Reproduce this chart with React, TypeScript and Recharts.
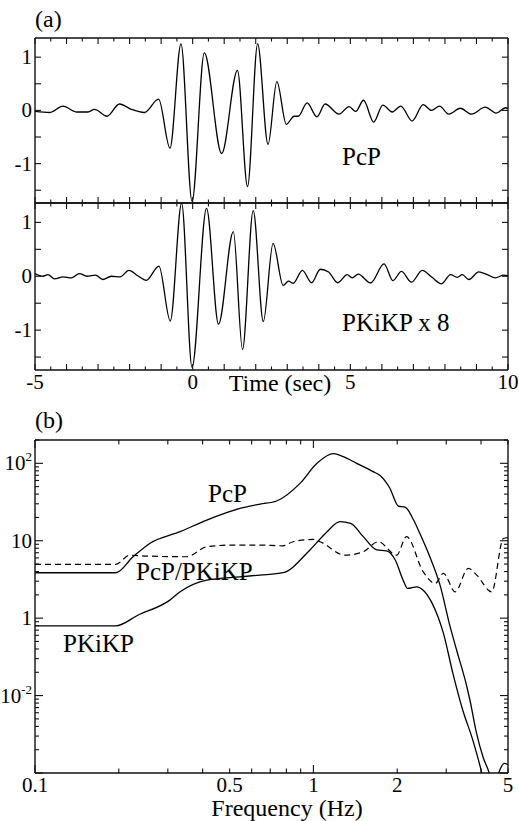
import { LineChart, Line, XAxis, YAxis } from 'recharts';

const FONT = "'Liberation Serif', 'Times New Roman', Times, 'DejaVu Serif', serif";

// (a) seismograms: [time (sec), normalised amplitude]
const pcpTrace: [number, number][] = [
  [-5, -0.02], [-4.53, -0.04], [-4.11, 0.08], [-3.69, -0.03], [-3.32, -0.03], [-3.11, 0.02],
  [-2.72, -0.11], [-2.32, 0.12], [-1.95, 0.02], [-1.53, -0.04], [-1.08, 0.21], [-0.72, -0.71],
  [-0.37, 1.25], [-0.02, -1.71], [0.37, 1.08], [0.92, -0.81], [1.42, 0.75], [1.74, -1.43],
  [2.06, 1.25], [2.39, -0.64], [2.67, 0.54], [2.97, -0.26], [3.22, -0.11], [3.35, -0.11],
  [3.63, 0.14], [3.94, -0.12], [4.2, 0.12], [4.64, -0.07], [4.96, 0.07], [5.17, -0.02],
  [5.42, 0.19], [5.74, -0.22], [6.03, 0.1], [6.33, -0.03], [6.6, 0.08], [6.96, -0.2],
  [7.31, 0.11], [7.57, 0.0], [7.83, 0.08], [8.12, -0.07], [8.49, 0.04], [8.84, -0.07],
  [9.28, 0.06], [9.62, -0.05], [9.92, 0.05], [10, 0.04],
];

const pkikpTrace: [number, number][] = [
  [-5, 0.05], [-4.75, 0.0], [-4.59, 0.03], [-4.38, -0.05], [-4.11, -0.01], [-3.85, -0.03],
  [-3.59, 0.05], [-3.35, 0.0], [-3.08, 0.02], [-2.85, -0.06], [-2.58, 0.0], [-2.3, -0.01],
  [-2.02, 0.11], [-1.74, 0.01], [-1.47, -0.075], [-1.07, 0.19], [-0.71, -0.83], [-0.35, 1.36],
  [-0.02, -1.69], [0.44, 1.26], [0.82, -0.89], [1.29, 0.83], [1.58, -1.36], [1.92, 1.22],
  [2.24, -0.84], [2.55, 0.61], [2.87, -0.17], [3.04, -0.09], [3.19, -0.13], [3.48, 0.11],
  [3.77, -0.12], [4.05, 0.13], [4.31, 0.08], [4.6, -0.12], [4.9, 0.03], [5.06, -0.03],
  [5.25, 0.04], [5.64, -0.125], [6.07, 0.23], [6.35, -0.08], [6.62, 0.09], [6.94, -0.11],
  [7.28, 0.11], [7.59, -0.02], [7.89, -0.14], [8.18, 0.03], [8.39, -0.02], [8.55, 0.03],
  [8.76, -0.06], [9.07, 0.08], [9.34, 0.03], [9.6, -0.03], [9.86, 0.02], [10, 0.01],
];

// (b) spectra: [frequency (Hz), amplitude]
const pcpSpectrum: [number, number][] = [
  [0.1, 3.86], [0.195, 3.86], [0.225, 6.2], [0.259, 9.3], [0.332, 13.1], [0.414, 18.5],
  [0.545, 26.2], [0.643, 29.8], [0.738, 32.6], [0.895, 55], [1.03, 100], [1.18, 133],
  [1.28, 122], [1.43, 100], [1.64, 78], [1.74, 69], [1.88, 48], [2.02, 28], [2.14, 27],
  [2.29, 18.5], [2.41, 12.5], [2.62, 6.2], [2.85, 2.67], [3.1, 0.77], [3.27, 0.385],
  [3.56, 0.129], [3.65, 0.087], [3.86, 0.032], [4.07, 0.016], [4.29, 0.0098], [4.45, 0.006],
  [4.62, 0.0098], [4.85, 0.0133], [5, 0.0128],
];

const pkikpSpectrum: [number, number][] = [
  [0.1, 0.795], [0.195, 0.795], [0.234, 1.09], [0.305, 1.71], [0.332, 2.19], [0.414, 3.1],
  [0.545, 3.42], [0.643, 3.6], [0.778, 3.86], [0.972, 7.6], [1.12, 13.1], [1.246, 17.6],
  [1.36, 16.8], [1.51, 11.3], [1.69, 7.6], [1.83, 7.4], [1.97, 5.6], [2.1, 3.1], [2.18, 2.42],
  [2.35, 2.54], [2.48, 2.3], [2.66, 1.6], [2.93, 0.64], [3.17, 0.194], [3.44, 0.0646],
  [3.74, 0.0264], [4.03, 0.0098], [4.2, 0.005],
];

const ratioSpectrum: [number, number][] = [
  [0.1, 4.95], [0.195, 4.95], [0.219, 6.5], [0.252, 6.34], [0.351, 6.21], [0.414, 8.36],
  [0.514, 8.8], [0.643, 8.8], [0.778, 8.6], [0.845, 9.7], [1.0, 10.4], [1.057, 9.7],
  [1.3, 6.5], [1.51, 7.2], [1.71, 9.7], [1.99, 6.5], [2.16, 11.3], [2.48, 3.97], [2.74, 2.81],
  [2.93, 3.79], [3.23, 2.19], [3.6, 4.4], [3.86, 3.6], [4.37, 2.19], [4.81, 10.7], [5, 11],
];

// axis ticks
const timeTicks = [
  -5, -4.5, -4, -3.5, -3, -2.5, -2, -1.5, -1, -0.5, 0, 0.5, 1, 1.5, 2, 2.5, 3, 3.5, 4, 4.5,
  5, 5.5, 6, 6.5, 7, 7.5, 8, 8.5, 9, 9.5, 10,
];
const timeMajor = [-5, -4, -3, -2, -1, 0, 1, 2, 3, 4, 5, 6, 7, 8, 9, 10];
const timeLabels = [
  { value: -5, text: '-5' }, { value: 0, text: '0' }, { value: 5, text: '5' }, { value: 10, text: '10' },
];
const ampTicks = [-1.5, -1, -0.5, 0, 0.5, 1];
const ampMajor = [-1, 0, 1];
const ampLabels = [{ value: 1, text: '1' }, { value: 0, text: '0' }, { value: -1, text: '-1' }];

const freqTicks = [0.1, 0.2, 0.3, 0.4, 0.5, 0.6, 0.7, 0.8, 0.9, 1, 2, 3, 4, 5];
const freqMajor = [0.1, 1];
const freqLabels = [
  { value: 0.1, text: '0.1' }, { value: 0.5, text: '0.5' }, { value: 1, text: '1' },
  { value: 2, text: '2' }, { value: 5, text: '5' },
];
const specTicks = [
  0.01, 0.02, 0.03, 0.04, 0.05, 0.06, 0.07, 0.08, 0.09,
  0.1, 0.2, 0.3, 0.4, 0.5, 0.6, 0.7, 0.8, 0.9,
  1, 2, 3, 4, 5, 6, 7, 8, 9,
  10, 20, 30, 40, 50, 60, 70, 80, 90,
  100, 200,
];
const specMajor = [0.01, 0.1, 1, 10, 100];
const specLabels = [
  { value: 100, text: '10', sup: '2' }, { value: 10, text: '10' },
  { value: 1, text: '1' }, { value: 0.1, text: '10', sup: '-2' },
];

type Side = 'top' | 'bottom' | 'left' | 'right';
type TickLabel = { value: number; text: string; sup?: string };

const border = { stroke: '#111', strokeWidth: 1.4 };
const serif = { fontFamily: FONT };

// draws the tick inward from the frame, plus its label outside
const inwardTick = (side: Side, majors: number[], majorLen: number, minorLen: number, labels: TickLabel[] = []) =>
  (props: any) => {
    const { x, y, payload } = props;
    const v = payload.value;
    const len = majors.includes(v) ? majorLen : minorLen;
    const x2 = side === 'left' ? x + len : side === 'right' ? x - len : x;
    const y2 = side === 'top' ? y + len : side === 'bottom' ? y - len : y;
    const lab = labels.find((l) => l.value === v);
    return (
      <g>
        <line x1={x} y1={y} x2={x2} y2={y2} stroke="#111" strokeWidth={1.1} />
        {lab && side === 'left' && (
          <text x={x - 3} y={y + 7} textAnchor="end" style={serif} fontSize={21} fill="#000">
            {lab.text}
            {lab.sup && <tspan dy={-9} fontSize={13}>{lab.sup}</tspan>}
          </text>
        )}
        {lab && side === 'bottom' && (
          <text x={x} y={y + 19} textAnchor="middle" style={serif} fontSize={21} fill="#000">
            {lab.text}
          </text>
        )}
      </g>
    );
  };

const toPoints = (rows: [number, number][]) => rows.map(([x, v]) => ({ x, v }));

const common = { tickLine: false, tickSize: 0, tickMargin: 0, interval: 0 as const, axisLine: border, allowDataOverflow: true };

function WavePanel({ trace, height, margin, showLabels }: {
  trace: [number, number][]; height: number; margin: any; showLabels: boolean;
}) {
  return (
    <LineChart width={519} height={height} margin={margin}>
      <XAxis xAxisId="b" orientation="bottom" mirror type="number" dataKey="x" domain={[-5, 10]}
        ticks={timeTicks} {...common} tick={inwardTick('bottom', timeMajor, 6, 3.5, showLabels ? timeLabels : [])} />
      <XAxis xAxisId="t" orientation="top" mirror type="number" dataKey="x" domain={[-5, 10]}
        ticks={timeTicks} {...common} tick={inwardTick('top', timeMajor, 6, 3.5)} />
      <YAxis yAxisId="l" orientation="left" width={35} type="number" domain={[-1.74, 1.36]}
        ticks={ampTicks} {...common} tick={inwardTick('left', ampMajor, 6, 6, ampLabels)} />
      <YAxis yAxisId="r" orientation="right" mirror type="number" domain={[-1.74, 1.36]}
        ticks={ampTicks} {...common} tick={inwardTick('right', ampMajor, 6, 6)} />
      <Line xAxisId="b" yAxisId="l" data={toPoints(trace)} dataKey="v" type="monotone"
        stroke="#000" strokeWidth={1.3} dot={false} isAnimationActive={false} />
    </LineChart>
  );
}

function SpectrumPanel() {
  return (
    <LineChart width={519} height={441} margin={{ top: 60, right: 11, bottom: 48, left: 0 }}>
      <XAxis xAxisId="b" orientation="bottom" mirror type="number" scale="log" dataKey="x" domain={[0.1, 5]}
        ticks={freqTicks} {...common} tick={inwardTick('bottom', freqMajor, 8, 4.5, freqLabels)} />
      <XAxis xAxisId="t" orientation="top" mirror type="number" scale="log" dataKey="x" domain={[0.1, 5]}
        ticks={freqTicks} {...common} tick={inwardTick('top', freqMajor, 8, 4.5)} />
      <YAxis yAxisId="l" orientation="left" width={35} type="number" scale="log" domain={[0.01, 200]}
        ticks={specTicks} {...common} tick={inwardTick('left', specMajor, 8, 4, specLabels)} />
      <YAxis yAxisId="r" orientation="right" mirror type="number" scale="log" domain={[0.01, 200]}
        ticks={specTicks} {...common} tick={inwardTick('right', specMajor, 8, 4)} />
      <Line xAxisId="b" yAxisId="l" data={toPoints(pcpSpectrum)} dataKey="v" type="monotone"
        stroke="#000" strokeWidth={1.3} dot={false} isAnimationActive={false} />
      <Line xAxisId="b" yAxisId="l" data={toPoints(pkikpSpectrum)} dataKey="v" type="monotone"
        stroke="#000" strokeWidth={1.3} dot={false} isAnimationActive={false} />
      <Line xAxisId="b" yAxisId="l" data={toPoints(ratioSpectrum)} dataKey="v" type="monotone"
        stroke="#000" strokeWidth={1.2} strokeDasharray="6 4" dot={false} isAnimationActive={false} />
    </LineChart>
  );
}

const txt = { style: serif, fill: '#000' };

export default function App() {
  return (
    <div style={{ position: 'absolute', left: 0, top: 0, width: 519, height: 821, background: '#fff', overflow: 'hidden', fontFamily: FONT }}>
      <div style={{ position: 'absolute', left: 0, top: 0 }}>
        <WavePanel trace={pcpTrace} height={210} margin={{ top: 38, right: 11, bottom: 7, left: 0 }} showLabels={false} />
      </div>
      <div style={{ position: 'absolute', left: 0, top: 180 }}>
        <WavePanel trace={pkikpTrace} height={230} margin={{ top: 23, right: 11, bottom: 40, left: 0 }} showLabels />
      </div>
      <div style={{ position: 'absolute', left: 0, top: 380 }}>
        <SpectrumPanel />
      </div>
      <svg width={519} height={821} style={{ position: 'absolute', left: 0, top: 0, pointerEvents: 'none' }}>
        <text x={35} y={27} fontSize={24} {...txt}>(a)</text>
        <text x={342} y={165} fontSize={25} {...txt}>PcP</text>
        <text x={342} y={331} fontSize={25} {...txt}>PKiKP x 8</text>
        <text x={280} y={391} fontSize={24} textAnchor="middle" {...txt}>Time (sec)</text>
        <text x={35} y={428} fontSize={24} {...txt}>(b)</text>
        <text x={208} y={502} fontSize={25} {...txt}>PcP</text>
        <text x={136} y={580} fontSize={25} {...txt}>PcP/PKiKP</text>
        <text x={63} y={652} fontSize={25} {...txt}>PKiKP</text>
        <text x={287} y={816} fontSize={24} textAnchor="middle" {...txt}>Frequency (Hz)</text>
      </svg>
    </div>
  );
}
